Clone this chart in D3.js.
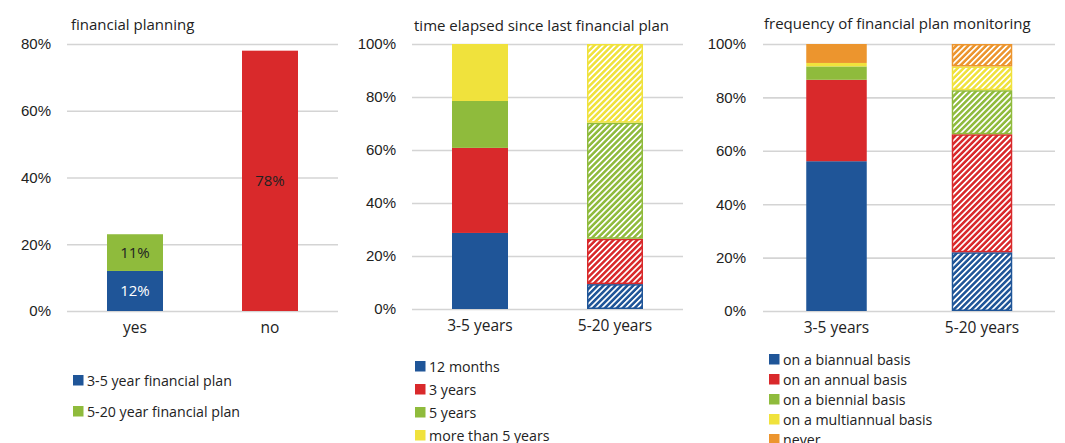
<!DOCTYPE html>
<html lang="en">
<head>
<meta charset="UTF-8">
<title>financial planning</title>
<script src="https://d3js.org/d3.v7.min.js"></script>
<style>
  body { margin: 0; background: #fff; }
  svg { display: block; font-family: "Open Sans", sans-serif; }
</style>
</head>
<body>
<svg id="chart" width="1065" height="443"></svg>
<script>
// panel 1: financial planning
const p1Categories = ["yes", "no"];
const p1Series = ["3-5 year financial plan", "5-20 year financial plan", "no plan"];
const p1Values = [[12, 11, 0], [0, 0, 78]];
const p1Labels = [["12%", "11%", ""], ["", "", "78%"]];
const p1Ticks = [0, 20, 40, 60, 80];

// panel 2: time elapsed since last financial plan
const p2Categories = ["3-5 years", "5-20 years"];
const p2Series = ["12 months", "3 years", "5 years", "more than 5 years"];
const p2Values = [[28.7, 32.1, 17.7, 21.5], [9.4, 17.1, 43.8, 29.7]];
const p2Ticks = [0, 20, 40, 60, 80, 100];

// panel 3: frequency of financial plan monitoring
const p3Categories = ["3-5 years", "5-20 years"];
const p3Series = ["on a biannual basis", "on an annual basis", "on a biennial basis", "on a multiannual basis", "never"];
const p3Values = [[56.1, 30.5, 5.0, 1.3, 7.1], [22.0, 44.2, 16.5, 8.9, 8.4]];
const p3Ticks = [0, 20, 40, 60, 80, 100];

const colors = ["#1f5598", "#d9292b", "#8fbb3c", "#f0e23c", "#ec952e"];
const p1Colors = ["#1f5598", "#8fbb3c", "#d9292b"];

const svg = d3.select("#chart");
const defs = svg.append("defs");

// hatched fill for second category
colors.forEach((c, i) => {
  const p = defs.append("pattern")
    .attr("id", "hatch" + i)
    .attr("patternUnits", "userSpaceOnUse")
    .attr("width", 4.2).attr("height", 4.2)
    .attr("patternTransform", "rotate(45)");
  p.append("rect").attr("width", 4.2).attr("height", 4.2).attr("fill", c);
  p.append("rect").attr("x", 0).attr("width", 1.7).attr("height", 4.2).attr("fill", "#fff");
});

function drawPanel(opt) {
  const g = svg.append("g");
  const y = d3.scaleLinear().domain([0, opt.max]).range([opt.bottom, opt.top]);
  // band scale placed so that bar centres sit where the reference has them
  const step = opt.centers[1] - opt.centers[0];
  const p = 1 - opt.barWidth / step;
  const x = d3.scaleBand().domain(opt.categories)
    .range([opt.centers[0] - step / 2, opt.centers[1] + step / 2])
    .paddingInner(p).paddingOuter(p / 2);

  // gridlines + tick labels
  const axis = d3.axisLeft(y).tickValues(opt.ticks).tickFormat(d => d + "%")
    .tickSize(-(opt.right - opt.left)).tickPadding(16);
  const ag = g.append("g").attr("transform", `translate(${opt.left},0)`).call(axis);
  ag.select(".domain").remove();
  ag.selectAll(".tick line").attr("stroke", "#d4d4d4").attr("stroke-width", 1.6);
  ag.selectAll(".tick text").attr("fill", "#222").attr("font-size", 15).attr("x", -(opt.labelGap));

  // bars
  opt.values.forEach((vals, ci) => {
    let acc = 0;
    vals.forEach((v, si) => {
      if (!v) return;
      const y0 = y(acc), y1 = y(acc + v);
      acc += v;
      const col = opt.colors[si];
      const hatched = opt.hatch && ci === 1;
      g.append("rect")
        .attr("x", x(opt.categories[ci]) + (hatched ? 0.75 : 0))
        .attr("y", y1 + (hatched ? 0.75 : 0))
        .attr("width", x.bandwidth() - (hatched ? 1.5 : 0))
        .attr("height", Math.max(0, y0 - y1 - (hatched ? 1.5 : 0)))
        .attr("fill", hatched ? `url(#hatch${colors.indexOf(col)})` : col)
        .attr("stroke", hatched ? col : "none")
        .attr("stroke-width", 1.5);
      if (opt.labels && opt.labels[ci][si]) {
        g.append("text")
          .attr("x", x(opt.categories[ci]) + x.bandwidth() / 2)
          .attr("y", (y0 + y1) / 2 + 5)
          .attr("text-anchor", "middle")
          .attr("font-size", 15)
          .attr("fill", si === 0 ? "#fff" : "#222")
          .text(opt.labels[ci][si]);
      }
    });
  });

  // category labels
  g.selectAll(".cat").data(opt.categories).join("text")
    .attr("x", d => x(d) + x.bandwidth() / 2)
    .attr("y", opt.bottom + 22)
    .attr("text-anchor", "middle")
    .attr("font-size", 15.5)
    .attr("fill", "#222")
    .text(d => d);

  // title
  g.append("text").attr("x", opt.titleX).attr("y", opt.titleY)
    .attr("font-size", 15).attr("fill", "#222").text(opt.title);

  // legend
  opt.legend.forEach((name, i) => {
    const ly = opt.legendY + i * opt.legendStep;
    g.append("rect").attr("x", opt.legendX).attr("y", ly - 5).attr("width", 10.5).attr("height", 10.5)
      .attr("fill", opt.colors[i]);
    g.append("text").attr("x", opt.legendX + 14).attr("y", ly + 5.5)
      .attr("font-size", 14.2).attr("fill", "#222").text(name);
  });
}

drawPanel({
  categories: p1Categories, values: p1Values, labels: p1Labels, ticks: p1Ticks, max: 80,
  colors: p1Colors, hatch: false, centers: [135, 270], barWidth: 56,
  left: 67, right: 338, top: 44, bottom: 311, labelGap: 16,
  title: "financial planning", titleX: 71, titleY: 30,
  legend: p1Series.slice(0, 2), legendX: 73, legendY: 380, legendStep: 31
});

drawPanel({
  categories: p2Categories, values: p2Values, ticks: p2Ticks, max: 100,
  colors: colors, hatch: true, centers: [480, 615], barWidth: 56,
  left: 412, right: 683, top: 44, bottom: 309, labelGap: 16,
  title: "time elapsed since last financial plan", titleX: 414, titleY: 31,
  legend: p2Series, legendX: 415, legendY: 366, legendStep: 23
});

drawPanel({
  categories: p3Categories, values: p3Values, ticks: p3Ticks, max: 100,
  colors: colors, hatch: true, centers: [836.5, 982], barWidth: 60.5,
  left: 763, right: 1055, top: 44, bottom: 311, labelGap: 17,
  title: "frequency of financial plan monitoring", titleX: 764, titleY: 29,
  legend: p3Series, legendX: 769, legendY: 359, legendStep: 20
});
</script>
</body>
</html>
